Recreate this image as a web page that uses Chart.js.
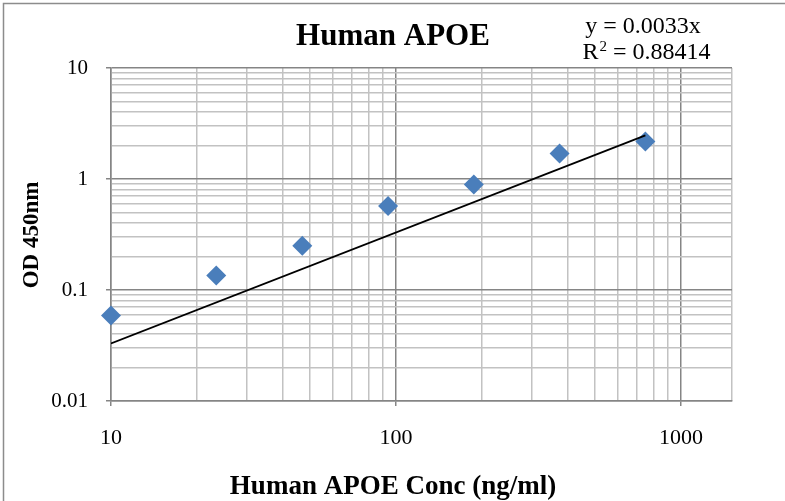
<!DOCTYPE html>
<html>
<head>
<meta charset="utf-8">
<script src="https://cdn.jsdelivr.net/npm/chart.js@4.4.1/dist/chart.umd.min.js"></script>
<style>
  html, body { margin: 0; padding: 0; background: #ffffff; }
  #wrap { position: relative; width: 785px; height: 501px; }
</style>
</head>
<body>
<div id="wrap"><canvas id="c" width="785" height="501"></canvas></div>
<script>
// ---- data ----
const chartTitle = "Human APOE";
const xAxisTitle = "Human APOE Conc (ng/ml)";
const yAxisTitle = "OD 450nm";
const equationLine1 = "y = 0.0033x";
const equationR2 = "0.88414";

const concentrations = [10, 23.4, 46.9, 93.8, 187.5, 375, 750];
const odValues = [0.059, 0.135, 0.25, 0.57, 0.89, 1.70, 2.18];

const trendX = [10, 750];
const trendY = [0.033, 2.475];

const xTickValues = [10, 20, 30, 40, 50, 60, 70, 80, 90, 100, 200, 300, 400, 500, 600, 700, 800, 900, 1000, 1510];
const yTickValues = [0.01, 0.02, 0.03, 0.04, 0.05, 0.06, 0.07, 0.08, 0.09,
                     0.1, 0.2, 0.3, 0.4, 0.5, 0.6, 0.7, 0.8, 0.9,
                     1, 2, 3, 4, 5, 6, 7, 8, 9, 10];
const xLabels = { 10: "10", 100: "100", 1000: "1000" };
const yLabels = { 0.01: "0.01", 0.1: "0.1", 1: "1", 10: "10" };

// ---- styling helpers ----
const MAJOR = "#858585";
const MINOR = "#c2c2c2";
function isDecade(v) {
  const l = Math.log10(v);
  return Math.abs(l - Math.round(l)) < 1e-9;
}

const textPlugin = {
  id: "textPlugin",
  beforeDraw(chart) {
    const ctx = chart.ctx;
    ctx.save();
    ctx.fillStyle = "#ffffff";
    ctx.fillRect(0, 0, chart.width, chart.height);
    ctx.strokeStyle = "#8c8c8c";
    ctx.lineWidth = 1.5;
    ctx.beginPath();
    ctx.moveTo(3.5, chart.height);
    ctx.lineTo(3.5, 3.5);
    ctx.lineTo(chart.width, 3.5);
    ctx.stroke();
    ctx.restore();
  },
  afterDraw(chart) {
    const ctx = chart.ctx;
    ctx.save();
    ctx.fillStyle = "#000000";
    // main title
    ctx.font = 'bold 31px "Liberation Serif"';
    ctx.textAlign = "center";
    ctx.textBaseline = "alphabetic";
    ctx.fillText(chartTitle, 393, 45);
    // equation
    ctx.font = '24px "Liberation Serif"';
    ctx.fillText(equationLine1, 643, 33);
    // R^2 line
    const partR = "R";
    const partSup = "2";
    const partRest = " = " + equationR2;
    ctx.font = '24px "Liberation Serif"';
    const wR = ctx.measureText(partR).width;
    const wRest = ctx.measureText(partRest).width;
    ctx.font = '15px "Liberation Serif"';
    const wSup = ctx.measureText(partSup).width;
    const total = wR + wSup + wRest;
    let x0 = 646 - total / 2;
    ctx.textAlign = "left";
    ctx.font = '24px "Liberation Serif"';
    ctx.fillText(partR, x0, 59);
    ctx.font = '15px "Liberation Serif"';
    ctx.fillText(partSup, x0 + wR + 1, 51);
    ctx.font = '24px "Liberation Serif"';
    ctx.fillText(partRest, x0 + wR + wSup + 1, 59);
    // x axis title
    ctx.textAlign = "center";
    ctx.font = 'bold 27px "Liberation Serif"';
    ctx.fillText(xAxisTitle, 393, 494);
    // y axis title
    ctx.translate(38, 235);
    ctx.rotate(-Math.PI / 2);
    ctx.font = 'bold 23px "Liberation Serif"';
    ctx.fillText(yAxisTitle, 0, 0);
    ctx.restore();
  }
};

new Chart(document.getElementById("c"), {
  type: "scatter",
  data: {
    datasets: [
      {
        label: "Linear trend",
        data: trendX.map((x, i) => ({ x: x, y: trendY[i] })),
        showLine: true,
        borderColor: "#000000",
        borderWidth: 1.8,
        pointRadius: 0,
        pointHoverRadius: 0,
        order: 0
      },
      {
        label: "OD 450nm",
        data: concentrations.map((x, i) => ({ x: x, y: odValues[i] })),
        pointStyle: "rectRot",
        pointRadius: 10,
        pointHoverRadius: 10,
        backgroundColor: "#4A7EBB",
        borderColor: "#4A7EBB",
        borderWidth: 0,
        clip: false,
        order: 1
      }
    ]
  },
  options: {
    responsive: false,
    animation: false,
    devicePixelRatio: 1,
    layout: { padding: { left: 0, top: 68, right: 53, bottom: 0 } },
    plugins: {
      legend: { display: false },
      title: { display: false },
      tooltip: { enabled: false }
    },
    scales: {
      x: {
        type: "logarithmic",
        min: 10,
        max: 1510,
        afterFit(s) { s.height = 100; },
        afterBuildTicks(s) { s.ticks = xTickValues.map(v => ({ value: v, major: isDecade(v) })); },
        grid: {
          color: ctx => (ctx.tick && isDecade(ctx.tick.value)) ? MAJOR : MINOR,
          tickColor: ctx => (ctx.tick && isDecade(ctx.tick.value)) ? MAJOR : "rgba(0,0,0,0)",
          lineWidth: 1.5,
          tickLength: 5
        },
        border: { display: true, color: MAJOR, width: 1.5 },
        ticks: {
          autoSkip: false,
          maxRotation: 0,
          padding: 19,
          color: "#000000",
          font: { family: "Liberation Serif", size: 22 },
          callback: v => xLabels[v] || ""
        }
      },
      y: {
        type: "logarithmic",
        min: 0.01,
        max: 10,
        afterFit(s) { s.width = 111; },
        afterBuildTicks(s) { s.ticks = yTickValues.map(v => ({ value: v, major: isDecade(v) })); },
        grid: {
          color: ctx => (ctx.tick && isDecade(ctx.tick.value)) ? MAJOR : MINOR,
          tickColor: ctx => (ctx.tick && isDecade(ctx.tick.value)) ? MAJOR : "rgba(0,0,0,0)",
          lineWidth: 1.5,
          tickLength: 5
        },
        border: { display: true, color: MAJOR, width: 1.5 },
        ticks: {
          autoSkip: false,
          padding: 18,
          color: "#000000",
          font: { family: "Liberation Serif", size: 21 },
          callback: v => {
            for (const k in yLabels) { if (Math.abs(Number(k) - v) < 1e-9) return yLabels[k]; }
            return "";
          }
        }
      }
    }
  },
  plugins: [textPlugin]
});
</script>
</body>
</html>
